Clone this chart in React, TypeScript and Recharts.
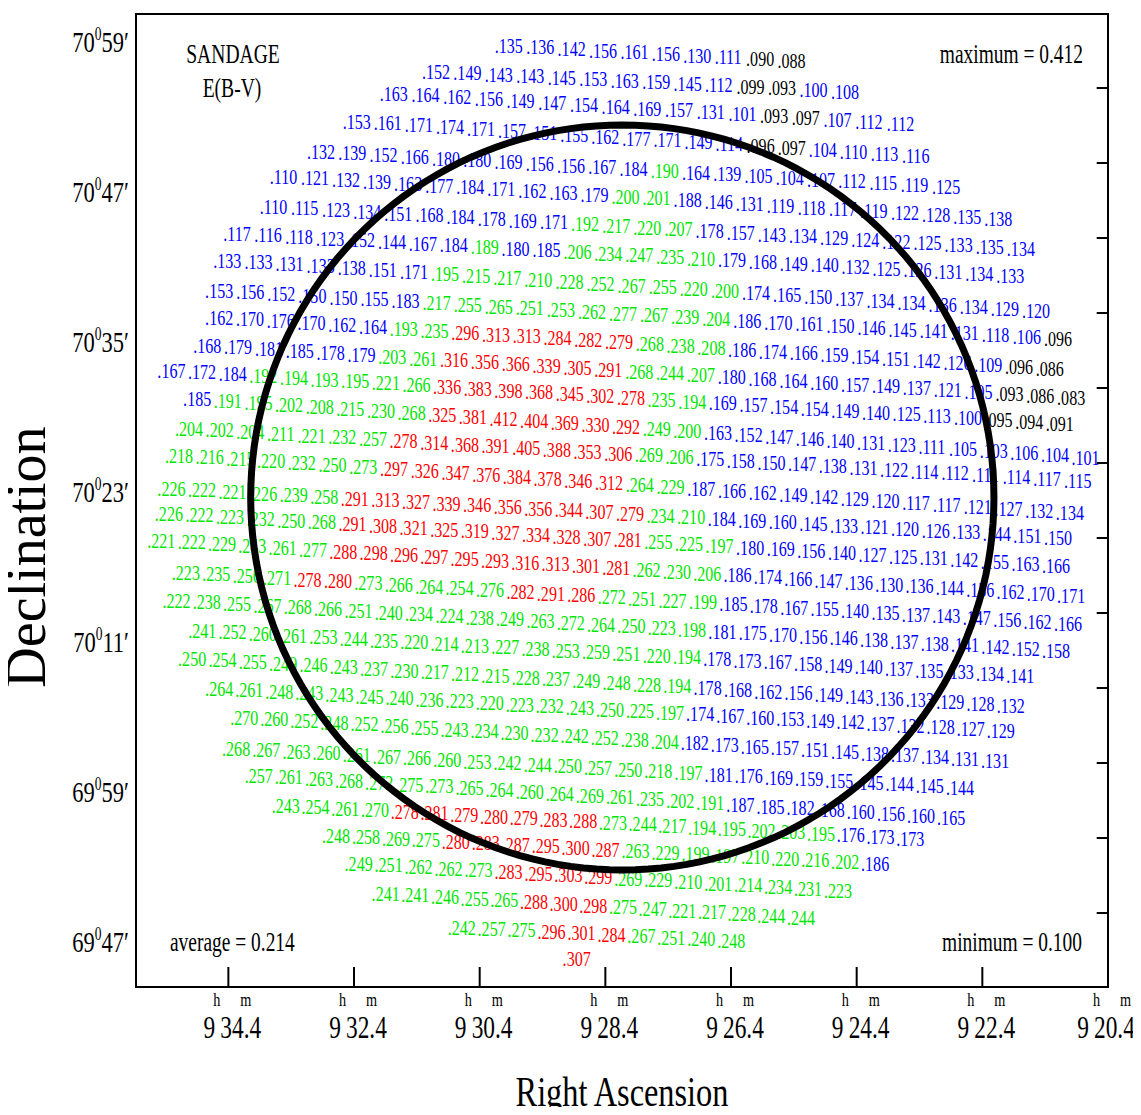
import React from "react"
import { ScatterChart, Scatter, XAxis, YAxis, ReferenceArea, ReferenceLine } from "recharts"

// E(B-V) values, one array per scan row (north to south, east to west)
const row01 = [.135, .136, .142, .156, .161, .156, .130, .111, .090, .088]
const row02 = [.152, .149, .143, .143, .145, .153, .163, .159, .145, .112, .099, .093, .100, .108]
const row03 = [.163, .164, .162, .156, .149, .147, .154, .164, .169, .157, .131, .101, .093, .097, .107, .112, .112]
const row04 = [.153, .161, .171, .174, .171, .157, .151, .155, .162, .177, .171, .149, .114, .096, .097, .104, .110, .113, .116]
const row05 = [.132, .139, .152, .166, .180, .180, .169, .156, .156, .167, .184, .190, .164, .139, .105, .104, .107, .112, .115, .119, .125]
const row06 = [.110, .121, .132, .139, .163, .177, .184, .171, .162, .163, .179, .200, .201, .188, .146, .131, .119, .118, .117, .119, .122, .128, .135, .138]
const row07 = [.110, .115, .123, .134, .151, .168, .184, .178, .169, .171, .192, .217, .220, .207, .178, .157, .143, .134, .129, .124, .122, .125, .133, .135, .134]
const row08 = [.117, .116, .118, .123, .152, .144, .167, .184, .189, .180, .185, .206, .234, .247, .235, .210, .179, .168, .149, .140, .132, .125, .126, .131, .134, .133]
const row09 = [.133, .133, .131, .133, .138, .151, .171, .195, .215, .217, .210, .228, .252, .267, .255, .220, .200, .174, .165, .150, .137, .134, .134, .136, .134, .129, .120]
const row10 = [.153, .156, .152, .150, .150, .155, .183, .217, .255, .265, .251, .253, .262, .277, .267, .239, .204, .186, .170, .161, .150, .146, .145, .141, .131, .118, .106, .096]
const row11 = [.162, .170, .176, .170, .162, .164, .193, .235, .296, .313, .313, .284, .282, .279, .268, .238, .208, .186, .174, .166, .159, .154, .151, .142, .126, .109, .096, .086]
const row12 = [.168, .179, .181, .185, .178, .179, .203, .261, .316, .356, .366, .339, .305, .291, .268, .244, .207, .180, .168, .164, .160, .157, .149, .137, .121, .105, .093, .086, .083]
const row13 = [.167, .172, .184, .192, .194, .193, .195, .221, .266, .336, .383, .398, .368, .345, .302, .278, .235, .194, .169, .157, .154, .154, .149, .140, .125, .113, .100, .095, .094, .091]
const row14 = [.185, .191, .195, .202, .208, .215, .230, .268, .325, .381, .412, .404, .369, .330, .292, .249, .200, .163, .152, .147, .146, .140, .131, .123, .111, .105, .103, .106, .104, .101]
const row15 = [.204, .202, .204, .211, .221, .232, .257, .278, .314, .368, .391, .405, .388, .353, .306, .269, .206, .175, .158, .150, .147, .138, .131, .122, .114, .112, .111, .114, .117, .115]
const row16 = [.218, .216, .215, .220, .232, .250, .273, .297, .326, .347, .376, .384, .378, .346, .312, .264, .229, .187, .166, .162, .149, .142, .129, .120, .117, .117, .121, .127, .132, .134]
const row17 = [.226, .222, .221, .226, .239, .258, .291, .313, .327, .339, .346, .356, .356, .344, .307, .279, .234, .210, .184, .169, .160, .145, .133, .121, .120, .126, .133, .144, .151, .150]
const row18 = [.226, .222, .223, .232, .250, .268, .291, .308, .321, .325, .319, .327, .334, .328, .307, .281, .255, .225, .197, .180, .169, .156, .140, .127, .125, .131, .142, .155, .163, .166]
const row19 = [.221, .222, .229, .243, .261, .277, .288, .298, .296, .297, .295, .293, .316, .313, .301, .281, .262, .230, .206, .186, .174, .166, .147, .136, .130, .136, .144, .156, .162, .170, .171]
const row20 = [.223, .235, .256, .271, .278, .280, .273, .266, .264, .254, .276, .282, .291, .286, .272, .251, .227, .199, .185, .178, .167, .155, .140, .135, .137, .143, .147, .156, .162, .166]
const row21 = [.222, .238, .255, .267, .268, .266, .251, .240, .234, .224, .238, .249, .263, .272, .264, .250, .223, .198, .181, .175, .170, .156, .146, .138, .137, .138, .141, .142, .152, .158]
const row22 = [.241, .252, .260, .261, .253, .244, .235, .220, .214, .213, .227, .238, .253, .259, .251, .220, .194, .178, .173, .167, .158, .149, .140, .137, .135, .133, .134, .141]
const row23 = [.250, .254, .255, .249, .246, .243, .237, .230, .217, .212, .215, .228, .237, .249, .248, .228, .194, .178, .168, .162, .156, .149, .143, .136, .133, .129, .128, .132]
const row24 = [.264, .261, .248, .243, .243, .245, .240, .236, .223, .220, .223, .232, .243, .250, .225, .197, .174, .167, .160, .153, .149, .142, .137, .132, .128, .127, .129]
const row25 = [.270, .260, .252, .248, .252, .256, .255, .243, .234, .230, .232, .242, .252, .238, .204, .182, .173, .165, .157, .151, .145, .138, .137, .134, .131, .131]
const row26 = [.268, .267, .263, .260, .261, .267, .266, .260, .253, .242, .244, .250, .257, .250, .218, .197, .181, .176, .169, .159, .155, .145, .144, .145, .144]
const row27 = [.257, .261, .263, .268, .272, .275, .273, .265, .264, .260, .264, .269, .261, .235, .202, .191, .187, .185, .182, .168, .160, .156, .160, .165]
const row28 = [.243, .254, .261, .270, .278, .281, .279, .280, .279, .283, .288, .273, .244, .217, .194, .195, .202, .203, .195, .176, .173, .173]
const row29 = [.248, .258, .269, .275, .280, .283, .287, .295, .300, .287, .263, .229, .199, .197, .210, .220, .216, .202, .186]
const row30 = [.249, .251, .262, .262, .273, .283, .295, .303, .299, .269, .229, .210, .201, .214, .234, .231, .223]
const row31 = [.241, .241, .246, .255, .265, .288, .300, .298, .275, .247, .221, .217, .228, .244, .244]
const row32 = [.242, .257, .275, .296, .301, .284, .267, .251, .240, .248]
const row33 = [.307]

const rows = [row01, row02, row03, row04, row05, row06, row07, row08, row09, row10, row11,
  row12, row13, row14, row15, row16, row17, row18, row19, row20, row21, row22,
  row23, row24, row25, row26, row27, row28, row29, row30, row31, row32, row33]

// RA (minutes past 9h) and Dec (arcmin from +70d00') of the first and last field in each row
const raFirst = [30.16, 31.32, 31.99, 32.58, 33.15, 33.74, 33.90, 34.48, 34.64, 34.77, 34.77, 34.96, 35.53, 35.12, 35.25, 35.41, 35.53, 35.57, 35.69, 35.30, 35.45, 35.04, 35.20, 34.77, 34.37, 34.50, 34.14, 33.71, 32.91, 32.55, 32.12, 30.91, 29.08]
const raLast = [25.66, 24.81, 23.92, 23.68, 23.20, 22.37, 22.01, 22.18, 21.77, 21.42, 21.55, 21.21, 21.39, 20.98, 21.10, 21.23, 21.42, 21.45, 21.21, 21.26, 21.45, 22.02, 22.17, 22.33, 22.42, 22.98, 23.12, 23.77, 24.33, 24.92, 25.51, 26.62, 29.08]
const decFirst = [58.6, 56.52, 54.76, 52.52, 50.12, 48.12, 45.72, 43.56, 41.4, 39, 36.84, 34.6, 32.6, 30.36, 27.96, 25.8, 23.16, 21.16, 19, 16.44, 14.2, 11.8, 9.56, 7.16, 4.84, 2.36, 0.2, -2.2, -4.6, -6.84, -9.24, -11.96, -14.44]
const decLast = [57.4, 54.92, 52.36, 49.8, 47.32, 44.76, 42.36, 40.2, 37.4, 35.16, 32.76, 30.44, 28.36, 25.64, 23.8, 21.24, 19.24, 17, 14.6, 12.36, 10.2, 8.2, 5.8, 3.8, 1.4, -0.76, -3.16, -4.84, -6.84, -9, -11.16, -13, -14.44]

const raTicks = [34.4, 32.4, 30.4, 28.4, 26.4, 24.4, 22.4, 20.4]
const decTicks = [59, 47, 35, 23, 11, -1, -13]
const decMinor = [55.16, 49.16, 43.16, 37.16, 31.16, 25.16, 19.16, 13.16, 7.16, 1.16, -4.84, -10.84]

// the 30' circle
const circleRa = 28.13
const circleDec = 22.4
const circleRadius = 29.8

const RA_DOMAIN = [20.4, 35.87]
const DEC_DOMAIN = [-16.76, 61.08]

const FONT = "'Liberation Serif', 'DejaVu Serif', serif"

const points = rows.flatMap((vals, i) =>
  vals.map((v, j) => {
    const t = vals.length > 1 ? j / (vals.length - 1) : 0
    return {
      ra: raFirst[i] + t * (raLast[i] - raFirst[i]),
      dec: decFirst[i] + t * (decLast[i] - decFirst[i]),
      v,
    }
  })
)

const raScale = 15 * Math.cos(((70 * 60 + circleDec) / 60) * Math.PI / 180)
const circle = Array.from({ length: 181 }, (_, k) => {
  const a = (k / 180) * 2 * Math.PI
  return {
    ra: circleRa + (circleRadius / raScale) * Math.cos(a),
    dec: circleDec + circleRadius * Math.sin(a),
  }
})

function colorOf(v: number) {
  if (v < 0.1) return "#000000"
  if (v < 0.1885) return "#0000ff"
  if (v < 0.2775) return "#00e600"
  return "#ff0000"
}

function ValueLabel(props: any) {
  const { cx, cy, payload } = props
  if (cx == null || cy == null) return <g />
  return (
    <g transform={`translate(${cx},${cy + 7.5}) scale(0.73,1)`}>
      <text x={0} y={0} fontSize={22} fontFamily={FONT} fill={colorOf(payload.v)}>
        {payload.v.toFixed(3).slice(1)}
      </text>
    </g>
  )
}

function RaTick(props: any) {
  const { x, y, payload } = props
  // the last label sits on the frame corner and is pulled in so it stays on the page
  const last = payload.value === raTicks[raTicks.length - 1]
  const shift = last ? -6 : 0
  return (
    <g>
      <g transform={`translate(${x},${y + 19}) scale(0.75,1)`}>
        <text x={-20} y={0} fontSize={19} fontFamily={FONT} fill="#000">h</text>
        <text x={16} y={0} fontSize={19} fontFamily={FONT} fill="#000">m</text>
      </g>
      <g transform={`translate(${x + shift},${y + 51}) scale(0.73,1)`}>
        <text x={-34} y={0} fontSize={32} fontFamily={FONT} fill="#000">9</text>
        <text x={-11} y={0} fontSize={32} fontFamily={FONT} fill="#000">{payload.value.toFixed(1)}</text>
      </g>
    </g>
  )
}

function DecTick(props: any) {
  const { y, payload } = props
  const total = 70 * 60 + payload.value
  const deg = Math.floor(total / 60)
  const min = total - deg * 60
  return (
    <g transform={`translate(129,${y + 12}) scale(0.75,1)`}>
      <text x={0} y={0} fontSize={30} textAnchor="end" fontFamily={FONT} fill="#000">
        <tspan>{deg}</tspan>
        <tspan fontSize={18} dy={-12}>0</tspan>
        <tspan dy={12}>{String(min).padStart(2, "0")}′</tspan>
      </text>
    </g>
  )
}

function Txt({ x, y, size, anchor = "start", sx = 0.73, children }: any) {
  return (
    <g transform={`translate(${x},${y}) scale(${sx},1)`}>
      <text x={0} y={0} fontSize={size} textAnchor={anchor} fontFamily={FONT} fill="#000">{children}</text>
    </g>
  )
}

export default function App() {
  return (
    <div style={{ margin: -8, width: 1141, height: 1115, position: "relative", overflow: "hidden", background: "#fff" }}>
      <ScatterChart width={1141} height={1115} margin={{ top: 14, right: 33, bottom: 0, left: 0 }}>
        <XAxis
          type="number"
          dataKey="ra"
          domain={RA_DOMAIN}
          reversed
          allowDataOverflow
          ticks={raTicks}
          interval={0}
          tick={<RaTick />}
          tickLine={false}
          tickSize={0}
          tickMargin={0}
          axisLine={false}
          height={128}
        />
        <YAxis
          type="number"
          dataKey="dec"
          domain={DEC_DOMAIN}
          allowDataOverflow
          ticks={decTicks}
          interval={0}
          tick={<DecTick />}
          tickLine={false}
          axisLine={false}
          width={136}
        />
        <ReferenceArea x1={RA_DOMAIN[0]} x2={RA_DOMAIN[1]} y1={DEC_DOMAIN[0]} y2={DEC_DOMAIN[1]} fill="none" stroke="#000" strokeWidth={2} strokeOpacity={1} />
        {raTicks.slice(0, 7).map((t) => (
          <ReferenceLine key={"b" + t} segment={[{ x: t, y: DEC_DOMAIN[0] }, { x: t, y: DEC_DOMAIN[0] + 1.6 }]} stroke="#000" strokeWidth={2} />
        ))}
        {decMinor.map((t) => (
          <ReferenceLine key={"r" + t} segment={[{ x: RA_DOMAIN[0], y: t }, { x: RA_DOMAIN[0] + 0.18, y: t }]} stroke="#000" strokeWidth={2} />
        ))}
        <Scatter data={points} shape={<ValueLabel />} isAnimationActive={false} legendType="none" />
        <Scatter
          data={circle}
          line={{ stroke: "#000", strokeWidth: 7 }}
          lineType="joint"
          shape={() => <g />}
          isAnimationActive={false}
          legendType="none"
        />
      </ScatterChart>
      <svg width={1141} height={1115} style={{ position: "absolute", left: 0, top: 0, pointerEvents: "none" }}>
        <Txt x={233} y={63} size={28} anchor="middle" sx={0.7}>SANDAGE</Txt>
        <Txt x={232} y={97} size={28} anchor="middle" sx={0.7}>E(B-V)</Txt>
        <Txt x={1083} y={63} size={27} anchor="end" sx={0.72}>maximum = 0.412</Txt>
        <Txt x={1082} y={951} size={27} anchor="end" sx={0.72}>minimum = 0.100</Txt>
        <Txt x={170} y={951} size={27} anchor="start" sx={0.72}>average = 0.214</Txt>
        <Txt x={622} y={1106} size={42} anchor="middle" sx={0.77}>Right Ascension</Txt>
        <g transform="translate(45,557) rotate(-90)">
          <text x={0} y={0} fontSize={56} textAnchor="middle" fontFamily={FONT} fill="#000">Declination</text>
        </g>
      </svg>
    </div>
  )
}
